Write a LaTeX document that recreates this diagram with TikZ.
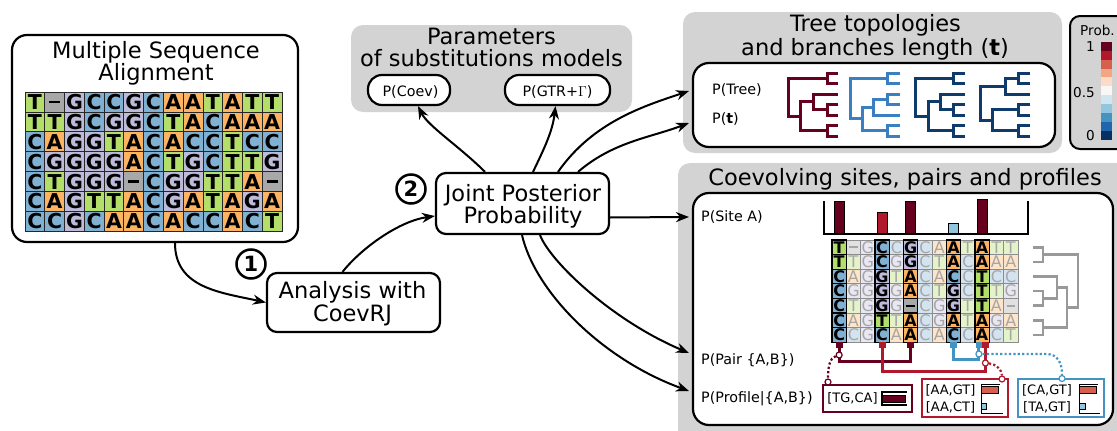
\documentclass[tikz,border=0pt]{standalone}
\usepackage{fontspec}
\setmainfont{DejaVu Sans}
\usetikzlibrary{arrows.meta,calc}
\definecolor{nT}{HTML}{B3DE69}
\definecolor{nA}{HTML}{FDB462}
\definecolor{nC}{HTML}{80B1D3}
\definecolor{nG}{HTML}{BEBADA}
\definecolor{nX}{HTML}{A8A8A8}
\definecolor{pgray}{HTML}{D3D3D3}
\definecolor{rb01}{HTML}{67001F}
\definecolor{rb02}{HTML}{B2182B}
\definecolor{rb03}{HTML}{D6604D}
\definecolor{rb04}{HTML}{F4A582}
\definecolor{rb05}{HTML}{FDDBC7}
\definecolor{rb06}{HTML}{F7F7F7}
\definecolor{rb07}{HTML}{D1E5F0}
\definecolor{rb08}{HTML}{92C5DE}
\definecolor{rb09}{HTML}{4393C3}
\definecolor{rb10}{HTML}{2166AC}
\definecolor{rb11}{HTML}{053061}
\definecolor{treeblue}{HTML}{3A7FC1}
\definecolor{treenavy}{HTML}{0E3A6C}
\definecolor{treegray}{HTML}{999999}
\newcommand\myfs[1]{\fontsize{#1pt}{#1pt}\selectfont}
% topology ((1,2),((3,(4,5)),(6,7))); args: style, R, A, B, C, E
\newcommand\treeTA[6]{%
  \draw[#1] (#6,0) -| (#5,1) -- (#6,1)
    (#5,0.5) -| (#2,4.125) -- (#3,4.125)
    (#6,3) -| (#5,4) -- (#6,4)
    (#6,2) -| (#4,3.5) -- (#5,3.5)
    (#4,2.75) -| (#3,5.5) -- (#5,5.5)
    (#6,5) -| (#5,6) -- (#6,6);}
% topology ((1,2),(((3,4),5),(6,7)))
\newcommand\treeTB[6]{%
  \draw[#1] (#6,0) -| (#5,1) -- (#6,1)
    (#5,0.5) -| (#2,4.375) -- (#3,4.375)
    (#6,2) -| (#5,3) -- (#6,3)
    (#5,2.5) -| (#4,4) -- (#6,4)
    (#4,3.25) -| (#3,5.5) -- (#5,5.5)
    (#6,5) -| (#5,6) -- (#6,6);}
% topology (((1,2),3),((4,5),(6,7)))
\newcommand\treeTC[6]{%
  \draw[#1] (#6,0) -| (#5,1) -- (#6,1)
    (#5,0.5) -| (#4,2) -- (#6,2)
    (#4,1.25) -| (#2,4.5) -- (#3,4.5)
    (#6,3) -| (#5,4) -- (#6,4)
    (#5,3.5) -| (#3,5.5) -- (#5,5.5)
    (#6,5) -| (#5,6) -- (#6,6);}
\begin{document}
\begin{tikzpicture}[x=1pt,y=-1pt,
  ttl/.style={font=\myfs{22.5}, anchor=base, inner sep=0pt},
  lbl/.style={font=\myfs{14.3}, anchor=base west, inner sep=0pt},
  lblc/.style={font=\myfs{14.3}, anchor=base, inner sep=0pt},
  sml/.style={font=\myfs{13}, anchor=base, inner sep=0pt},
  panel/.style={fill=pgray, rounded corners=12pt, inner sep=0pt},
  wbox/.style={draw=black, line width=2.2pt, fill=white, rounded corners=16pt, inner sep=0pt},
  sbox/.style={draw=black, line width=2.2pt, fill=white, rounded corners=10pt, inner sep=0pt},
  pill/.style={draw=black, line width=2.2pt, fill=white, rounded corners=14pt, inner sep=0pt, minimum height=30pt},
  numc/.style={circle, draw=black, line width=2.5pt, fill=white, minimum size=29pt, inner sep=0pt, font=\bfseries\myfs{21}},
  arr/.style={line width=2pt, -{Stealth[length=13pt,width=10pt]}},
  mcell/.style={draw=black!85, line width=0.8pt, inner sep=0pt, minimum width=19.77pt, minimum height=19.9pt, font=\bfseries\myfs{20.5}},
  ccellF/.style={draw=black!45, line width=0.7pt, inner sep=0pt, minimum width=14.3pt, minimum height=14.6pt, font=\myfs{16}, text=black!35},
  ccellH/.style={draw=black, line width=1.2pt, inner sep=0pt, minimum width=14.3pt, minimum height=14.6pt, font=\bfseries\myfs{16}, text=black},
  treeline/.style={line width=3pt, line join=miter},
  stub/.style={inner sep=0pt, minimum width=7pt, minimum height=6pt, draw=none},
  pairline/.style={line width=3pt, line join=miter},
  dotc/.style={circle, fill=white, line width=1.2pt, minimum size=6pt, inner sep=0pt},
  dotline/.style={line width=2.2pt, dash pattern=on 2.2pt off 2.2pt},
  pbox/.style={draw, line width=2.5pt, fill=white, inner sep=0pt},
  axis/.style={line width=1.4pt, black},
  minibar/.style={line width=0.7pt, draw=black}
]
\useasboundingbox (0,0) rectangle (1117,431);
\clip (0,0) rectangle (1117,431);

% ---------- grey panels ----------
\node[panel, minimum width=281pt, minimum height=87pt] (parpanel) at (491.5,68.5) {};
\node[panel, minimum width=379pt, minimum height=141pt] (treepanel) at (872.5,82.5) {};
\node[panel, minimum width=462pt, minimum height=287pt] (coevpanel) at (909,306.5) {};
\node[draw=black, line width=2pt, fill=pgray, rounded corners=10pt, minimum width=60pt, minimum height=133pt] (legend) at (1100,82.5) {};

% ---------- MSA ----------
\node[wbox, minimum width=286pt, minimum height=207pt, rounded corners=15pt] (msa) at (155,138.5) {};
\node[ttl] (msat1) at (156,58.5) {Multiple Sequence};
\node[ttl] (msat2) at (156,80) {Alignment};
\foreach \rowtext [count=\ri] in {{T,X,G,C,C,G,C,A,A,T,A,T,T},{T,T,G,C,G,G,C,T,A,C,A,A,A},{C,A,G,G,T,A,C,A,C,C,T,C,C},{C,G,G,G,G,A,C,T,G,C,T,T,G},{C,T,G,G,G,X,C,G,G,T,T,A,X},{C,A,G,T,T,A,C,G,A,T,A,G,A},{C,C,G,C,A,A,C,A,C,C,A,C,T}}{
  \foreach \bs [count=\ci] in \rowtext {
    \node[mcell, fill=n\bs] (m-\ri-\ci) at ({25+(\ci-0.5)*19.77},{92+(\ri-0.5)*19.9}) {\if X\bs\rule{11pt}{2.6pt}\else\bs\fi};
  }
}

% ---------- process boxes ----------
\node[sbox, minimum width=173pt, minimum height=59pt] (analysis) at (353.5,302.5) {};
\node[ttl] (an1) at (352.5,298.3) {Analysis with};
\node[ttl] (an2) at (352.5,321.5) {CoevRJ};
\node[sbox, minimum width=173pt, minimum height=61pt] (joint) at (522.5,203.5) {};
\node[ttl] (jo1) at (523,201.7) {Joint Posterior};
\node[ttl] (jo2) at (523,223.3) {Probability};
\node[numc] (one) at (251,264) {1};
\node[numc] (two) at (411,189) {2};

% ---------- parameters panel ----------
\node[ttl] (pa1) at (491.5,45) {Parameters};
\node[ttl] (pa2) at (491.5,66.7) {of substitutions models};
\node[pill, minimum width=82pt] (coev) at (409,90) {};
\node[lblc] (coevt) at (410.5,96) {P(Coev)};
\node[pill, minimum width=105pt] (gtr) at (557.5,90) {};
\node[lblc] (gtrt) at (557.5,96) {P(GTR+$\Gamma$)};

% ---------- tree panel ----------
\node[ttl] (tr1) at (875.5,31.7) {Tree topologies};
\node[ttl] (tr2) at (875,55) {and branches length (\textbf{t})};
\node[wbox, minimum width=362pt, minimum height=84pt] (treebox) at (874,105) {};
\node[lbl] (ptree) at (712,94) {P(Tree)};
\node[lbl] (pt) at (712,123.3) {P(\textbf{t})};
\begin{scope}[shift={(0,73)}, yscale=10.5]
  \treeTA{treeline, rb01}{788}{800}{813}{827}{838}
  \treeTB{treeline, treeblue}{850}{862}{873}{887}{900}
  \treeTA{treeline, treenavy}{915}{928}{940}{953}{965}
  \treeTC{treeline, treenavy}{980}{992}{1005}{1018}{1030}
\end{scope}

% ---------- legend ----------
\node[font=\myfs{13.6}, anchor=base, inner sep=0pt] (probt) at (1097.5,35) {Prob.};
\foreach \k [count=\i from 0] in {01,02,03,04,05,06,07,08,09,10,11}
  \fill[rb\k] (1100.7,{41.7+\i*8.94}) rectangle (1111.7,{41.7+(\i+1)*8.94});
\node[font=\myfs{13.6}, anchor=base east, inner sep=0pt] (l1) at (1095,51.7) {1};
\node[font=\myfs{13.6}, anchor=base east, inner sep=0pt] (l05) at (1095,97.3) {0.5};
\node[font=\myfs{13.6}, anchor=base east, inner sep=0pt] (l0) at (1095,140) {0};

% ---------- coevolution panel ----------
\node[ttl] (co1) at (905,185) {Coevolving sites, pairs and profiles};
\node[wbox, minimum width=420pt, minimum height=232pt] (coevbox) at (903,309) {};
\node[lbl] (psite) at (701,221.7) {P(Site A)};
\node[lbl] (ppair) at (701,364) {P(Pair \{A,B\})};
\node[lbl] (pprof) at (701,402.7) {P(Profile\textbar\{A,B\})};

% bar chart
\fill[rb01, draw=black, line width=0.7pt] (834.2,201) rectangle (844.1,234);
\fill[rb02, draw=black, line width=0.7pt] (877.1,212) rectangle (887.0,234);
\fill[rb01, draw=black, line width=0.7pt] (905.7,201) rectangle (915.6,234);
\fill[rb08, draw=black, line width=0.7pt] (948.6,223) rectangle (958.5,234);
\fill[rb01, draw=black, line width=0.7pt] (977.2,199) rectangle (987.1,234);
\draw[line width=2pt, line join=miter] (824,201) -- (824,234) -- (1028,234) -- (1028,201);

% alignment with highlighted columns
\foreach \rowtext [count=\ri] in {{T,X,G,C,C,G,C,A,A,T,A,T,T},{T,T,G,C,G,G,C,T,A,C,A,A,A},{C,A,G,G,T,A,C,A,C,C,T,C,C},{C,G,G,G,G,A,C,T,G,C,T,T,G},{C,T,G,G,G,X,C,G,G,T,T,A,X},{C,A,G,T,T,A,C,G,A,T,A,G,A},{C,C,G,C,A,A,C,A,C,C,A,C,T}}{
  \foreach \bs [count=\ci] in \rowtext {
    \pgfmathtruncatemacro\hl{(\ci==1)||(\ci==4)||(\ci==6)||(\ci==9)||(\ci==11)}
    \ifnum\hl=0
      \node[ccellF, fill=n\bs!35!white] (c-\ri-\ci) at ({832+(\ci-0.5)*14.3},{240+(\ri-0.5)*14.6}) {\if X\bs\rule{8.5pt}{2.2pt}\else\bs\fi};
    \fi
  }
}
\foreach \rowtext [count=\ri] in {{T,X,G,C,C,G,C,A,A,T,A,T,T},{T,T,G,C,G,G,C,T,A,C,A,A,A},{C,A,G,G,T,A,C,A,C,C,T,C,C},{C,G,G,G,G,A,C,T,G,C,T,T,G},{C,T,G,G,G,X,C,G,G,T,T,A,X},{C,A,G,T,T,A,C,G,A,T,A,G,A},{C,C,G,C,A,A,C,A,C,C,A,C,T}}{
  \foreach \bs [count=\ci] in \rowtext {
    \pgfmathtruncatemacro\hl{(\ci==1)||(\ci==4)||(\ci==6)||(\ci==9)||(\ci==11)}
    \ifnum\hl=1
      \node[ccellH, fill=n\bs] (c-\ri-\ci) at ({832+(\ci-0.5)*14.3},{240+(\ri-0.5)*14.6}) {\if X\bs\rule{8.5pt}{2.2pt}\else\bs\fi};
    \fi
  }
}

% grey tree of the alignment
\begin{scope}[shift={(0,247.3)}, yscale=14.6]
  \treeTA{line width=2.5pt, treegray, line join=miter}{1078}{1067}{1057}{1043}{1033}
\end{scope}

% stubs under highlighted columns
\node[stub, fill=rb01] (s1) at (839.15,345.2) {};
\node[stub, fill=rb02] (s4) at (882.05,345.2) {};
\node[stub, fill=rb01] (s6) at (910.65,345.2) {};
\node[stub, fill=rb09] (s9) at (953.55,345.2) {};
\node[stub, fill=rb09, minimum width=6.5pt] (s11b) at (978.9,345.2) {};
\node[stub, fill=rb02, minimum width=6.5pt] (s11r) at (985.4,345.2) {};

% pair brackets
\draw[pairline, rb01] (s1.south) -- (839.15,361) -| (s6.south);
\draw[pairline, rb02] (s4.south) -- (882.05,371) -| (s11r.south);
\draw[pairline, rb09] (s9.south) -- (953.55,359) -| (s11b.south);

% profile boxes
\node[pbox, draw=rb01, minimum width=89pt, minimum height=27pt] (pf1) at (867.5,398.5) {};
\node[pbox, draw=rb02, minimum width=86pt, minimum height=38pt] (pf2) at (965,398) {};
\node[pbox, draw=rb09, minimum width=86pt, minimum height=38pt] (pf3) at (1061,398) {};
\node[sml] (pf1t) at (852.5,402.7) {[TG,CA]};
\node[sml] (pf2a) at (950.5,394) {[AA,GT]};
\node[sml] (pf2b) at (950.5,411.7) {[AA,CT]};
\node[sml] (pf3a) at (1047,394) {[CA,GT]};
\node[sml] (pf3b) at (1047,411.7) {[TA,GT]};
% mini bar charts
\fill[rb01, minibar] (882,395) rectangle (905.5,402.5);
\draw[axis] (907,392) -- (882,392) -- (882,405) -- (907,405);
\fill[rb03, minibar] (981.7,386.8) rectangle (998.3,393.3);
\fill[rb08, minibar] (981.7,403.3) rectangle (986.2,409.3);
\draw[axis] (1000,384.3) -- (981.7,384.3) -- (981.7,413.3) -- (1002.7,413.3);
\fill[rb03, minibar] (1079.5,386.8) rectangle (1096,393.3);
\fill[rb08, minibar] (1079.5,403.3) rectangle (1085.5,409.3);
\draw[axis] (1098,384.3) -- (1079.5,384.3) -- (1079.5,413.3) -- (1099.5,413.3);

% dotted links from pairs to profiles
\node[dotc, draw=rb01] (d1) at (839.15,355) {};
\node[dotc, draw=rb02] (d2) at (985.4,363) {};
\node[dotc, draw=rb09] (d3) at (978.9,354) {};
\node[dotc, draw=rb01] (e1) at (828,382) {};
\node[dotc, draw=rb02] (e2) at (1002,379) {};
\node[dotc, draw=rb09] (e3) at (1062,378.5) {};
\draw[dotline, rb01] (d1) .. controls (830,358) and (828,366) .. (e1);
\draw[dotline, rb02] (d2) .. controls (996,364) and (1002,370) .. (e2);
\draw[dotline, rb09] (d3) -- (1046,354) .. controls (1058,354) and (1062,363) .. (e3);

% ---------- arrow targets ----------
\coordinate (tPT) at (689,91);
\coordinate (tPt) at (689,123);
\coordinate (tSA) at (689,217);
\coordinate (tPP) at (689,353);
\coordinate (tPF) at (689,391);

% ---------- connectors ----------
\draw[arr] ([xshift=20pt]msa.south) .. controls +(0,45) and +(-45,-10) .. (analysis.west);
\draw[arr] ([xshift=-11pt]analysis.north) .. controls +(20,-25) and +(-35,5) .. ([yshift=-12.5pt]joint.west);
\draw[arr] ([xshift=-37.5pt]joint.north) .. controls +(-25,-25) and +(10,20) .. ([xshift=9pt]coev.south);
\draw[arr] ([xshift=10.5pt]joint.north) .. controls +(12,-25) and +(-3,25) .. ([xshift=-2pt]gtr.south);
\draw[arr] ([xshift=35.5pt]joint.north) .. controls +(35,-50) and +(-45,15) .. (tPT);
\draw[arr] ([xshift=55.5pt]joint.north) .. controls +(35,-30) and +(-40,15) .. (tPt);
\draw[arr] ([yshift=-14pt]joint.east) -- (tSA);
\draw[arr] ([xshift=17.5pt]joint.south) .. controls +(10,26) and +(-78,-33) .. (tPP);
\draw[arr] ([xshift=-0.5pt]joint.south) .. controls +(13,56) and +(-88,-32) .. (tPF);
\end{tikzpicture}
\end{document}
